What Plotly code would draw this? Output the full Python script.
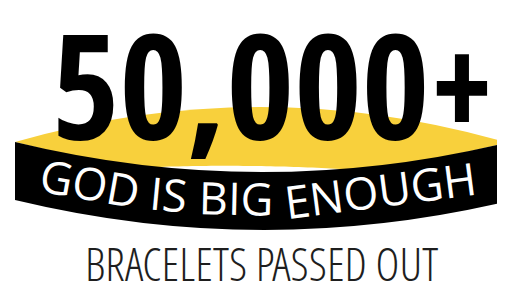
import math
import numpy as np
import plotly.graph_objects as go

# ---- content -------------------------------------------------------------
BRACELET_COUNT = 50000
COUNT_SUFFIX = "+"
BAND_WORDS = ["GOD", "IS", "BIG", "ENOUGH"]
SUBTITLE = "BRACELETS PASSED OUT"

# ---- style ---------------------------------------------------------------
W, H = 505, 294
PAGE_MARGIN = 8                # default <body> margin of the written page
YELLOW = "#F8D03C"
BLACK = "#000000"
WHITE = "#FFFFFF"
SUB_COLOR = "#1E1E1E"

HEAD_FONT = "Open Sans Condensed"
HEAD_SIZE = 146
HEAD_BASELINE = 135
HEAD_CX = 273

BAND_FONT = "Open Sans"
BAND_SIZE = 45
OPEN_SANS_ADV = {"G": 1516, "O": 1593, "D": 1479, " ": 450, "I": 608, "S": 1112,
                 "B": 1401, "E": 1118, "N": 1548, "U": 1479, "H": 1546}
ARC_CX, ARC_Y0, ARC_R = 258, 199, 950

SUB_FONT = "Open Sans Condensed Light"
SUB_SIZE = 46
SUB_CX, SUB_BASELINE = 261.5, 280.5

# geometry of the bracelet graphic (lens + curved band)
LEFT, RIGHT, MID = 15, 505, 260
LENS_TIP_L, LENS_TIP_R = 142, 142
LENS_TOP = 107
BAND_TOP_L, BAND_TOP_R, BAND_TOP_MID = 142, 143, 172
BAND_BOT_L, BAND_BOT_R, BAND_BOT_MID = 200, 202, 230


def qcurve(p0, pm, p2):
    cx = 2 * pm[0] - (p0[0] + p2[0]) / 2
    cy = 2 * pm[1] - (p0[1] + p2[1]) / 2
    return f"Q {cx},{cy} {p2[0]},{p2[1]}"


def qy(x, y0, ym, y2):
    t = (x - LEFT) / (RIGHT - LEFT)
    cy = 2 * ym - (y0 + y2) / 2
    return (1 - t) ** 2 * y0 + 2 * t * (1 - t) * cy + t ** 2 * y2


fig = go.Figure()
fig.add_trace(go.Scatter(x=[PAGE_MARGIN, W], y=[PAGE_MARGIN, H], mode="markers", marker=dict(opacity=0),
                         hoverinfo="skip", showlegend=False))

shapes = []
# yellow lens (top face of the bracelet)
lens = (f"M {LEFT},{LENS_TIP_L} " + qcurve((LEFT, LENS_TIP_L), (MID, LENS_TOP), (RIGHT, LENS_TIP_R)) +
        f" L {RIGHT},{BAND_TOP_R} " + qcurve((RIGHT, BAND_TOP_R), (MID, BAND_TOP_MID + 2), (LEFT, BAND_TOP_L)) + " Z")
shapes.append(dict(type="path", path=lens, fillcolor=YELLOW, line=dict(width=0), layer="below"))

# thin white highlight above the band
xs = np.linspace(160, 340, 40)
top_pts, bot_pts = [], []
for x in xs:
    yb = qy(x, BAND_TOP_L, BAND_TOP_MID, BAND_TOP_R)
    th = 6 * max(0.0, 1 - ((x - 250) / 90) ** 2)
    top_pts.append((x, yb - th))
    bot_pts.append((x, yb + 1))
pts = top_pts + bot_pts[::-1]
hl = "M " + " L ".join(f"{x:.1f},{y:.1f}" for x, y in pts) + " Z"
shapes.append(dict(type="path", path=hl, fillcolor=WHITE, line=dict(width=0), layer="below"))

# black curved band
band = (f"M {LEFT},{BAND_TOP_L} " + qcurve((LEFT, BAND_TOP_L), (MID, BAND_TOP_MID), (RIGHT, BAND_TOP_R)) +
        f" L {RIGHT},{BAND_BOT_R} " + qcurve((RIGHT, BAND_BOT_R), (MID, BAND_BOT_MID), (LEFT, BAND_BOT_L)) + " Z")
shapes.append(dict(type="path", path=band, fillcolor=BLACK, line=dict(width=0), layer="below"))

annotations = []
# big number
headline = f"{BRACELET_COUNT:,}{COUNT_SUFFIX}"
annotations.append(dict(x=HEAD_CX, y=HEAD_BASELINE - 0.354 * HEAD_SIZE, text=headline, showarrow=False,
                        xanchor="center", yanchor="middle",
                        font=dict(family=HEAD_FONT, size=HEAD_SIZE, weight=700, color=BLACK)))

# band text: each word placed along an arc, rotated to its tangent
band_text = " ".join(BAND_WORDS)
unit = BAND_SIZE / 2048
total = sum(OPEN_SANS_ADV[c] for c in band_text) * unit
s = -total / 2
for k, word in enumerate(BAND_WORDS):
    wlen = sum(OPEN_SANS_ADV[c] for c in word) * unit
    sc = s + wlen / 2
    s += wlen + OPEN_SANS_ADV[" "] * unit
    th = sc / ARC_R
    px = ARC_CX + ARC_R * math.sin(th)
    py = ARC_Y0 - ARC_R * (1 - math.cos(th)) - 1.5
    annotations.append(dict(x=px, y=py, text=word, showarrow=False, xanchor="center", yanchor="middle",
                            textangle=-math.degrees(th),
                            font=dict(family=BAND_FONT, size=BAND_SIZE, weight=400, color=WHITE)))

# subtitle
annotations.append(dict(x=SUB_CX, y=SUB_BASELINE - 0.388 * SUB_SIZE, text=SUBTITLE, showarrow=False,
                        xanchor="center", yanchor="middle",
                        font=dict(family=SUB_FONT, size=SUB_SIZE, weight=400, color=SUB_COLOR)))

fig.update_layout(width=W - PAGE_MARGIN, height=H - PAGE_MARGIN, margin=dict(l=0, r=0, t=0, b=0),
                  paper_bgcolor="white", plot_bgcolor="white", showlegend=False,
                  shapes=shapes, annotations=annotations,
                  xaxis=dict(range=[PAGE_MARGIN, W], visible=False, fixedrange=True),
                  yaxis=dict(range=[H, PAGE_MARGIN], visible=False, fixedrange=True))
fig.write_html("out.html")
